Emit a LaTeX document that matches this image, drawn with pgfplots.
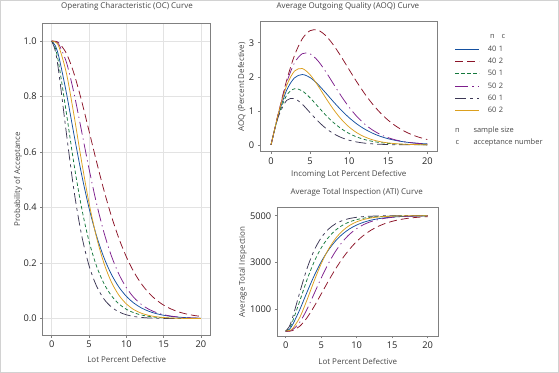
\documentclass[border=0pt]{standalone}
\usepackage{pgfplots}
\usepackage{pgfplotstable}
\pgfplotsset{compat=1.18}
\usepackage{fontspec}
\setmainfont{Open Sans}

\definecolor{cBlue}{RGB}{20,80,160}
\definecolor{cRed}{RGB}{140,20,40}
\definecolor{cGreen}{RGB}{20,120,60}
\definecolor{cPurple}{RGB}{125,30,140}
\definecolor{cDark}{RGB}{60,55,85}
\definecolor{cOrange}{RGB}{220,160,30}
\definecolor{frameC}{RGB}{128,128,128}
\definecolor{txtC}{RGB}{70,70,70}

% Columns: p, (n=40,c=1), (40,2), (50,1), (50,2), (60,1), (60,2)
\pgfplotstableread{
p a401 a402 a501 a502 a601 a602
0 1 1 1 1 1 1
0.5 0.98281 0.99893 0.97389 0.99797 0.96344 0.99653
1 0.93926 0.99250 0.91057 0.98619 0.87877 0.97758
2 0.80954 0.95433 0.73577 0.92157 0.66190 0.88125
3 0.66154 0.88217 0.55527 0.81079 0.45922 0.73148
4 0.52099 0.78556 0.40049 0.67673 0.30223 0.56758
5 0.39906 0.67673 0.27941 0.54049 0.19156 0.41745
6 0.29904 0.56650 0.19000 0.41624 0.11793 0.29401
7 0.22007 0.46254 0.12647 0.31073 0.07089 0.19976
8 0.15947 0.36949 0.08272 0.22599 0.04177 0.13168
9 0.11399 0.28947 0.05324 0.16053 0.02418 0.08454
10 0.08047 0.22280 0.03378 0.11172 0.01378 0.05305
11 0.05618 0.16880 0.02117 0.07634 0.00773 0.03258
12 0.03883 0.12607 0.01310 0.05127 0.00428 0.01964
13 0.02658 0.09293 0.00801 0.03389 0.00234 0.01163
14 0.01802 0.06760 0.00485 0.02209 0.00126 0.00677
15 0.01211 0.04860 0.00291 0.01419 0.00068 0.00389
16 0.00807 0.03456 0.00172 0.00899 0.00036 0.00220
17 0.00533 0.02431 0.00101 0.00563 0.00018 0.00121
18 0.00349 0.01691 0.00059 0.00348 0.00010 0.00068
19 0.00227 0.01167 0.00034 0.00213 0.00005 0.00037
20 0.00146 0.00794 0.00019 0.00128 0.00002 0.00019
}\octable

\pgfplotstableread{
p a401 a402 a501 a502 a601 a602
0 0 0 0 0 0 0
0.5 0.4875 0.4955 0.4821 0.4940 0.4759 0.4923
1 0.9318 0.9846 0.9015 0.9763 0.8682 0.9658
2 1.6061 1.8934 1.4568 1.8247 1.3079 1.7414
3 1.9687 2.6253 1.6492 2.4080 1.3611 2.1681
4 2.0673 3.1171 1.5859 2.6799 1.1944 2.2431
5 1.9793 3.3566 1.3831 2.6754 0.9463 2.0622
6 1.7799 3.3718 1.1286 2.4725 0.6991 1.7429
7 1.5282 3.2119 0.8764 2.1534 0.4903 1.3815
8 1.2656 2.9323 0.6551 1.7898 0.3302 1.0408
9 1.0177 2.5844 0.4744 1.4303 0.2150 0.7517
10 0.7983 2.2102 0.3344 1.1060 0.1361 0.5241
11 0.6130 1.8419 0.2305 0.8313 0.0840 0.3541
12 0.4622 1.5007 0.1556 0.6091 0.0507 0.2329
13 0.3428 1.1984 0.1031 0.4362 0.0301 0.1494
14 0.2503 0.9388 0.0672 0.3062 0.0174 0.0936
15 0.1802 0.7232 0.0432 0.2107 0.0101 0.0577
16 0.1281 0.5485 0.0272 0.1424 0.0057 0.0348
17 0.0899 0.4100 0.0170 0.0948 0.0030 0.0203
18 0.0623 0.3019 0.0105 0.0620 0.0018 0.0121
19 0.0428 0.2200 0.0064 0.0401 0.0009 0.0069
20 0.0290 0.1575 0.0038 0.0253 0.0004 0.0038
}\aoqtable

\pgfplotstableread{
p a401 a402 a501 a502 a601 a602
0 40 40 50 50 60 60
0.5 125.3 45.3 179.2 60.0 240.6 77.1
1 341.3 77.2 492.7 118.4 658.9 170.8
2 984.7 266.5 1357.9 438.2 1730.2 646.6
3 1718.8 624.4 2251.4 986.6 2731.5 1386.5
4 2415.9 1103.6 3017.6 1650.2 3507.0 2196.2
5 3020.7 1643.4 3616.9 2324.6 4053.7 2937.8
6 3516.8 2190.2 4059.5 2939.6 4417.4 3547.6
7 3908.5 2705.8 4374.0 3461.9 4649.8 4013.2
8 4209.0 3167.3 4590.5 3881.3 4793.7 4349.5
9 4434.6 3564.2 4736.5 4205.4 4880.6 4582.4
10 4600.9 3894.9 4832.8 4447.0 4931.9 4737.9
11 4721.3 4162.8 4895.2 4622.1 4961.8 4839.1
12 4807.4 4374.7 4935.2 4746.2 4978.9 4903.0
13 4868.2 4539.1 4960.4 4832.2 4988.4 4942.5
14 4910.6 4664.7 4976.0 4890.7 4993.8 4966.6
15 4939.9 4758.9 4985.6 4929.8 4996.6 4980.8
16 4960.0 4828.6 4991.5 4955.5 4998.2 4989.1
17 4973.6 4879.4 4995.0 4972.1 4999.1 4994.0
18 4982.7 4916.1 4997.1 4982.8 4999.5 4996.6
19 4988.7 4942.1 4998.3 4989.5 4999.8 4998.2
20 4992.8 4960.6 4999.1 4993.7 4999.9 4999.1
}\atitable

\pgfplotsset{
  s401/.style={cBlue, line width=0.75bp, solid, smooth, no markers},
  s402/.style={cRed, line width=0.75bp, dash pattern=on 8bp off 4bp, smooth, no markers},
  s501/.style={cGreen, line width=0.75bp, dash pattern=on 3.5bp off 2.5bp, smooth, no markers},
  s502/.style={cPurple, line width=0.75bp, dash pattern=on 13bp off 4bp on 1.2bp off 4bp, smooth, no markers},
  s601/.style={cDark, line width=0.75bp, dash pattern=on 11bp off 4bp on 3bp off 4bp, smooth, no markers},
  s602/.style={cOrange, line width=0.75bp, solid, smooth, no markers},
  base/.style={
    scale only axis,
    axis line style={frameC, line width=0.8bp},
    every tick/.style={frameC, line width=0.6bp},
    tick align=outside,
    major tick length=2.5bp,
    xtick pos=left, ytick pos=left,
    xtick={0,5,10,15,20},
    tick label style={font=\fontsize{9.3}{10}\selectfont, text=black!85},
    label style={font=\fontsize{8}{9}\selectfont, text=txtC},
    title style={font=\fontsize{8}{9}\selectfont, text=txtC, anchor=center},
    /pgf/number format/assume math mode=true,
    /pgf/number format/set thousands separator={},
    scaled ticks=false,
    clip=true,
  },
}

\begin{document}
\begin{tikzpicture}
\path[use as bounding box] (0bp,0bp) rectangle (559bp,373bp);
\draw[gray!35, line width=1bp] (0.5bp,0.5bp) rectangle (558.5bp,372.5bp);

% OC curve
\begin{axis}[base,
  at={(42.7bp,38bp)}, anchor=south west,
  width=168bp, height=311.7bp,
  xmin=-1.2, xmax=21.3, ymin=-0.059, ymax=1.064,
  ytick={0,0.2,0.4,0.6,0.8,1.0},
  yticklabel style={/pgf/number format/.cd, fixed, fixed zerofill, precision=1},
  grid=major, major grid style={gray!22, line width=0.6bp},
  title={Operating Characteristic (OC) Curve},
  title style={at={(axis description cs:0.502,1.034)}},
  xlabel={Lot Percent Defective},
  ylabel={Probability of Acceptance},
  xlabel style={at={(axis description cs:0.5,-0.077)}, anchor=center},
  ylabel style={at={(axis description cs:-0.147,0.5)}, anchor=center},
]
\addplot[s401] table[x=p, y=a401] {\octable};
\addplot[s402] table[x=p, y=a402] {\octable};
\addplot[s501] table[x=p, y=a501] {\octable};
\addplot[s502] table[x=p, y=a502] {\octable};
\addplot[s601] table[x=p, y=a601] {\octable};
\addplot[s602] table[x=p, y=a602] {\octable};
\end{axis}

% AOQ curve
\begin{axis}[base,
  at={(260.3bp,221.3bp)}, anchor=south west,
  width=177bp, height=130bp,
  xmin=-1.37, xmax=21.28, ymin=-0.2, ymax=3.62,
  ytick={0,1,2,3},
  title={Average Outgoing Quality (AOQ) Curve},
  title style={at={(axis description cs:0.495,1.072)}},
  xlabel={Incoming Lot Percent Defective},
  ylabel={AOQ (Percent Defective)},
  xlabel style={at={(axis description cs:0.5,-0.1715)}, anchor=center},
  ylabel style={at={(axis description cs:-0.105,0.5)}, anchor=center},
  legend style={at={(axis description cs:1.1,0.836)}, anchor=north west,
    draw=none, fill=none, inner sep=0pt, outer sep=0pt,
    font=\fontsize{7.5}{8}\selectfont, text=txtC,
    row sep=0pt,
    nodes={inner sep=0pt, minimum height=12.3bp}},
  legend cell align=left,
  legend image code/.code={\draw[#1] (0bp,0bp) -- (24bp,0bp);},
  /tikz/every odd column/.append style={column sep=8bp},
]
\addplot[s401] table[x=p, y=a401] {\aoqtable};
\addlegendentry{\makebox[11bp][l]{40}1}
\addplot[s402] table[x=p, y=a402] {\aoqtable};
\addlegendentry{\makebox[11bp][l]{40}2}
\addplot[s501] table[x=p, y=a501] {\aoqtable};
\addlegendentry{\makebox[11bp][l]{50}1}
\addplot[s502] table[x=p, y=a502] {\aoqtable};
\addlegendentry{\makebox[11bp][l]{50}2}
\addplot[s601] table[x=p, y=a601] {\aoqtable};
\addlegendentry{\makebox[11bp][l]{60}1}
\addplot[s602] table[x=p, y=a602] {\aoqtable};
\addlegendentry{\makebox[11bp][l]{60}2}
\end{axis}

% ATI curve
\begin{axis}[base,
  at={(277.3bp,37bp)}, anchor=south west,
  width=161bp, height=128.3bp,
  xmin=-1.18, xmax=21.5, ymin=-157, ymax=5343,
  ytick={1000,3000,5000},
  title={Average Total Inspection (ATI) Curve},
  title style={at={(axis description cs:0.493,1.073)}},
  xlabel={Lot Percent Defective},
  ylabel={Average Total Inspection},
  xlabel style={at={(axis description cs:0.5,-0.2)}, anchor=center},
  ylabel style={at={(axis description cs:-0.215,0.5)}, anchor=center},
]
\addplot[s401] table[x=p, y=a401] {\atitable};
\addplot[s402] table[x=p, y=a402] {\atitable};
\addplot[s501] table[x=p, y=a501] {\atitable};
\addplot[s502] table[x=p, y=a502] {\atitable};
\addplot[s601] table[x=p, y=a601] {\atitable};
\addplot[s602] table[x=p, y=a602] {\atitable};
\end{axis}

% legend header and notes
\node[font=\fontsize{7.5}{8}\selectfont, text=txtC, anchor=mid] at (492.3bp,337.3bp) {n};
\node[font=\fontsize{7.5}{8}\selectfont, text=txtC, anchor=mid] at (503.3bp,337.3bp) {c};
\node[font=\fontsize{7.5}{8}\selectfont, text=txtC, anchor=mid] at (457.3bp,243.5bp) {n};
\node[font=\fontsize{7.5}{8}\selectfont, text=txtC, anchor=mid west, inner sep=0pt] at (473.3bp,243.5bp) {sample size};
\node[font=\fontsize{7.5}{8}\selectfont, text=txtC, anchor=mid] at (457.3bp,231bp) {c};
\node[font=\fontsize{7.5}{8}\selectfont, text=txtC, anchor=mid west, inner sep=0pt] at (473.3bp,231bp) {acceptance number};
\end{tikzpicture}
\end{document}
